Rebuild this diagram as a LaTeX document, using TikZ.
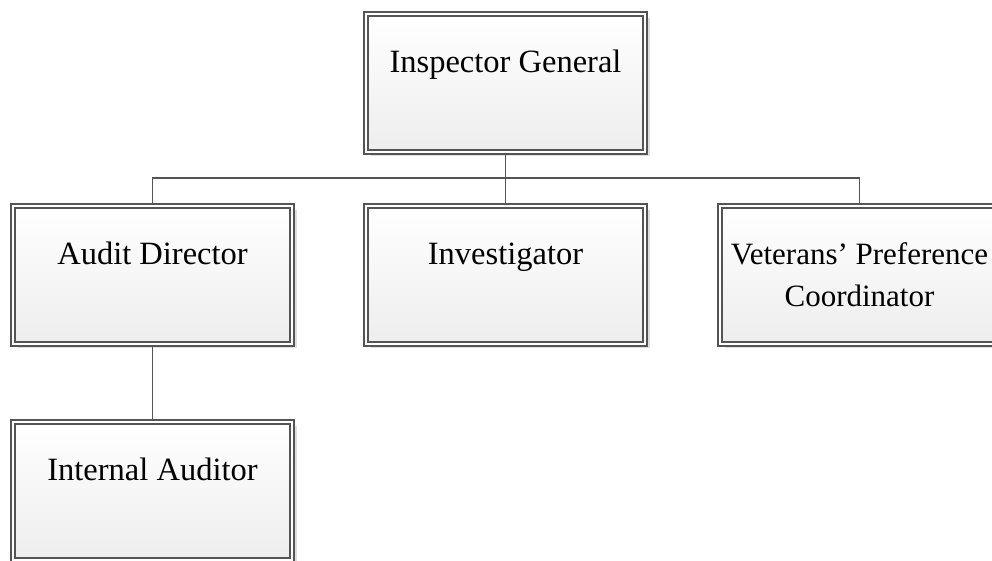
\documentclass[tikz,border=0pt]{standalone}
\usepackage{fontspec}
\setmainfont{Liberation Serif}
\usetikzlibrary{shadows}

\definecolor{boxline}{rgb}{0.33, 0.33, 0.33}

\begin{document}
\begin{tikzpicture}[x=1pt,y=1pt]
\tikzset{orgbox/.style={rectangle,draw=boxline,line width=1.6pt,double=white,
    double distance=2.6pt,outer sep=2.9pt,top color=white,bottom color=black!7,
    minimum width=279pt,minimum height=138pt,align=center,
    font=\fontsize{32.5}{42}\selectfont,
    drop shadow={shadow xshift=4.5pt,shadow yshift=-4.5pt,fill=black!25,opacity=0.5}},
  onebox/.style={orgbox,text height=22pt,text depth=42pt},
  conn/.style={draw=boxline,line width=1.8pt}}

\useasboundingbox (0,0) rectangle (992,561);

\node[onebox] (ig) at (505.5,478) {Inspector General};
\node[onebox] (ad) at (152.5,286) {Audit Director};
\node[onebox] (inv) at (505.5,286) {Investigator};
\node[orgbox,font=\fontsize{31}{42}\selectfont] (vpc) at (859.5,286) {Veterans' Preference\\Coordinator};
\node[onebox] (ia) at (152.5,70) {Internal Auditor};

\coordinate (bus) at (505.5,383);

\draw[conn] (ig) -- (inv);
\draw[conn] (bus) -| (ad);
\draw[conn] (bus) -| (vpc);
\draw[conn] (ad) -- (ia);

\end{tikzpicture}
\end{document}
